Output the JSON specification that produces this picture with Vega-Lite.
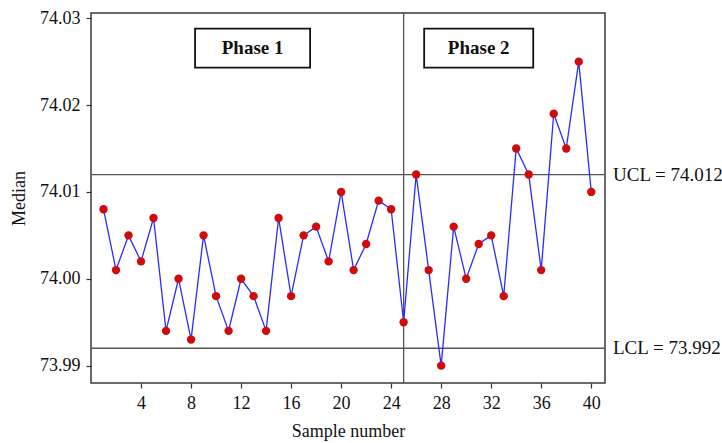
{
  "$schema": "https://vega.github.io/schema/vega-lite/v6.json",
  "width": 514,
  "height": 370,
  "autosize": {"type": "none"},
  "padding": {"left": 91, "top": 13, "right": 117, "bottom": 60},
  "background": "white",
  "config": {
    "font": "Liberation Serif",
    "view": {"stroke": "#3a3a3a", "strokeWidth": 1.5},
    "axis": {
      "grid": false,
      "domain": false,
      "tickColor": "#333333",
      "tickSize": 5,
      "tickWidth": 1.2,
      "labelFont": "Liberation Serif",
      "labelFontSize": 18,
      "labelColor": "#111111",
      "titleFont": "Liberation Serif",
      "titleFontSize": 18,
      "titleFontWeight": "normal",
      "titleColor": "#111111"
    }
  },
  "datasets": {
    "samples": [
      {"sample": 1, "median": 74.008}, {"sample": 2, "median": 74.001}, {"sample": 3, "median": 74.005}, {"sample": 4, "median": 74.002},
      {"sample": 5, "median": 74.007}, {"sample": 6, "median": 73.994}, {"sample": 7, "median": 74.000}, {"sample": 8, "median": 73.993},
      {"sample": 9, "median": 74.005}, {"sample": 10, "median": 73.998}, {"sample": 11, "median": 73.994}, {"sample": 12, "median": 74.000},
      {"sample": 13, "median": 73.998}, {"sample": 14, "median": 73.994}, {"sample": 15, "median": 74.007}, {"sample": 16, "median": 73.998},
      {"sample": 17, "median": 74.005}, {"sample": 18, "median": 74.006}, {"sample": 19, "median": 74.002}, {"sample": 20, "median": 74.010},
      {"sample": 21, "median": 74.001}, {"sample": 22, "median": 74.004}, {"sample": 23, "median": 74.009}, {"sample": 24, "median": 74.008},
      {"sample": 25, "median": 73.995}, {"sample": 26, "median": 74.012}, {"sample": 27, "median": 74.001}, {"sample": 28, "median": 73.990},
      {"sample": 29, "median": 74.006}, {"sample": 30, "median": 74.000}, {"sample": 31, "median": 74.004}, {"sample": 32, "median": 74.005},
      {"sample": 33, "median": 73.998}, {"sample": 34, "median": 74.015}, {"sample": 35, "median": 74.012}, {"sample": 36, "median": 74.001},
      {"sample": 37, "median": 74.019}, {"sample": 38, "median": 74.015}, {"sample": 39, "median": 74.025}, {"sample": 40, "median": 74.010}
    ],
    "limits": [
      {"label": "UCL = 74.012", "value": 74.012},
      {"label": "LCL = 73.992", "value": 73.992}
    ]
  },
  "layer": [
    {
      "data": {"name": "limits"},
      "mark": {"type": "rule", "color": "#555555", "strokeWidth": 1.3},
      "encoding": {
        "y": {"field": "value", "type": "quantitative", "scale": {"domain": [73.988, 74.0306], "zero": false, "nice": false},
              "axis": {"title": "Median", "values": [73.99, 74.0, 74.01, 74.02, 74.03], "format": ".2f", "labelPadding": 6, "titlePadding": 11}}
      }
    },
    {
      "data": {"name": "limits"},
      "mark": {"type": "text", "align": "left", "baseline": "middle", "dx": 8, "fontSize": 19, "color": "#111111", "font": "Liberation Serif"},
      "encoding": {
        "x": {"datum": 41.1, "type": "quantitative", "scale": {"domain": [0, 41.1], "zero": false, "nice": false},
              "axis": {"title": "Sample number", "values": [4, 8, 12, 16, 20, 24, 28, 32, 36, 40], "labelPadding": 6, "titlePadding": 10}},
        "y": {"field": "value", "type": "quantitative", "scale": {"domain": [73.988, 74.0306], "zero": false, "nice": false},
              "axis": {"title": "Median", "values": [73.99, 74.0, 74.01, 74.02, 74.03], "format": ".2f", "labelPadding": 6, "titlePadding": 11}},
        "text": {"field": "label"}
      }
    },
    {
      "data": {"values": [{"phaseBoundary": 25}]},
      "mark": {"type": "rule", "color": "#555555", "strokeWidth": 1.3},
      "encoding": {
        "x": {"field": "phaseBoundary", "type": "quantitative", "scale": {"domain": [0, 41.1], "zero": false, "nice": false},
              "axis": {"title": "Sample number", "values": [4, 8, 12, 16, 20, 24, 28, 32, 36, 40], "labelPadding": 6, "titlePadding": 10}}
      }
    },
    {
      "data": {"values": [{"phase": "Phase 1", "x1": 8.32, "x2": 17.52, "y1": 74.0243, "y2": 74.0288, "xm": 12.92, "ym": 74.02655}, {"phase": "Phase 2", "x1": 26.64, "x2": 35.36, "y1": 74.0243, "y2": 74.0288, "xm": 31.0, "ym": 74.02655}]},
      "layer": [
        {
          "mark": {"type": "rect", "fill": "white", "stroke": "#111111", "strokeWidth": 1.8},
          "encoding": {
            "x": {"field": "x1", "type": "quantitative", "scale": {"domain": [0, 41.1], "zero": false, "nice": false},
                  "axis": {"title": "Sample number", "values": [4, 8, 12, 16, 20, 24, 28, 32, 36, 40], "labelPadding": 6, "titlePadding": 10}},
            "x2": {"field": "x2"},
            "y": {"field": "y1", "type": "quantitative", "scale": {"domain": [73.988, 74.0306], "zero": false, "nice": false},
                  "axis": {"title": "Median", "values": [73.99, 74.0, 74.01, 74.02, 74.03], "format": ".2f", "labelPadding": 6, "titlePadding": 11}},
            "y2": {"field": "y2"}
          }
        },
        {
          "mark": {"type": "text", "align": "center", "baseline": "middle", "fontSize": 19, "fontWeight": "bold", "color": "#111111", "font": "Liberation Serif"},
          "encoding": {
            "x": {"field": "xm", "type": "quantitative", "scale": {"domain": [0, 41.1], "zero": false, "nice": false},
                  "axis": {"title": "Sample number", "values": [4, 8, 12, 16, 20, 24, 28, 32, 36, 40], "labelPadding": 6, "titlePadding": 10}},
            "y": {"field": "ym", "type": "quantitative", "scale": {"domain": [73.988, 74.0306], "zero": false, "nice": false},
                  "axis": {"title": "Median", "values": [73.99, 74.0, 74.01, 74.02, 74.03], "format": ".2f", "labelPadding": 6, "titlePadding": 11}},
            "text": {"field": "phase"}
          }
        }
      ]
    },
    {
      "data": {"name": "samples"},
      "mark": {"type": "line", "color": "#2b2bff", "strokeWidth": 1.3},
      "encoding": {
        "x": {"field": "sample", "type": "quantitative", "scale": {"domain": [0, 41.1], "zero": false, "nice": false},
              "axis": {"title": "Sample number", "values": [4, 8, 12, 16, 20, 24, 28, 32, 36, 40], "labelPadding": 6, "titlePadding": 10}},
        "y": {"field": "median", "type": "quantitative", "scale": {"domain": [73.988, 74.0306], "zero": false, "nice": false},
              "axis": {"title": "Median", "values": [73.99, 74.0, 74.01, 74.02, 74.03], "format": ".2f", "labelPadding": 6, "titlePadding": 11}}
      }
    },
    {
      "data": {"name": "samples"},
      "mark": {"type": "point", "filled": true, "color": "#d10a0a", "size": 70, "opacity": 1},
      "encoding": {
        "x": {"field": "sample", "type": "quantitative", "scale": {"domain": [0, 41.1], "zero": false, "nice": false},
              "axis": {"title": "Sample number", "values": [4, 8, 12, 16, 20, 24, 28, 32, 36, 40], "labelPadding": 6, "titlePadding": 10}},
        "y": {"field": "median", "type": "quantitative", "scale": {"domain": [73.988, 74.0306], "zero": false, "nice": false},
              "axis": {"title": "Median", "values": [73.99, 74.0, 74.01, 74.02, 74.03], "format": ".2f", "labelPadding": 6, "titlePadding": 11}}
      }
    }
  ]
}
